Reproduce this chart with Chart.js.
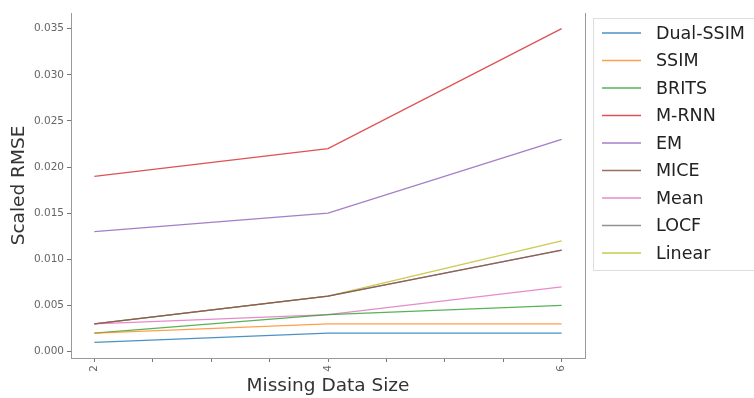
<!doctype html>
<html>
<head>
    <meta charset="utf-8">
    <title>Scaled RMSE vs Missing Data Size</title>
    <script src="https://cdn.jsdelivr.net/npm/chart.js@4.4.0/dist/chart.umd.min.js"></script>
    <style>
    html, body { margin: 0; padding: 0; background: #fff; }
    #wrap { width: 754px; height: 398px; }
    </style>
</head>
<body>
    <div id="wrap"><canvas id="canvas" width="754" height="398"></canvas></div>
    <script>
        var sizes = [2, 4, 6];
        var methods = ["Dual-SSIM", "SSIM", "BRITS", "M-RNN", "EM", "MICE", "Mean", "LOCF", "Linear"];
        var dualSsim = [0.001, 0.002, 0.002];
        var ssim     = [0.002, 0.003, 0.003];
        var brits    = [0.002, 0.004, 0.005];
        var mrnn     = [0.019, 0.022, 0.035];
        var em       = [0.013, 0.015, 0.023];
        var mice     = [0.003, 0.006, 0.011];
        var meanImp  = [0.003, 0.004, 0.007];
        var locf     = [0.003, 0.006, 0.011];
        var linear   = [0.003, 0.006, 0.012];
        var xTicks = [2, 2.5, 3, 3.5, 4, 4.5, 5, 5.5, 6];
        var xLabels = [2, 4, 6];

        var series = [dualSsim, ssim, brits, mrnn, em, mice, meanImp, locf, linear];
        var colors = ['rgba(31,119,180,0.8)', 'rgba(255,127,14,0.75)', 'rgba(44,160,44,0.8)',
                      'rgba(214,39,40,0.8)', 'rgba(148,103,189,0.85)', 'rgba(140,86,75,0.85)',
                      'rgba(227,119,194,0.85)', 'rgba(127,127,127,0.85)', 'rgba(188,189,34,0.8)'];

        var font = 'DejaVu Sans';

        var datasets = series.map(function (vals, i) {
            return {
                label: methods[i],
                data: vals.map(function (v, j) { return { x: sizes[j], y: v }; }),
                borderColor: colors[i],
                backgroundColor: colors[i],
                borderWidth: 1.3,
                pointRadius: 0,
                tension: 0,
                fill: false
            };
        });

        // boxed legend on the right, plus the right spine
        var extras = {
            id: 'extras',
            afterDraw: function (chart) {
                var ctx = chart.ctx;
                var area = chart.chartArea;
                ctx.save();
                ctx.strokeStyle = '#999';
                ctx.lineWidth = 1;
                ctx.beginPath();
                ctx.moveTo(area.right + 0.5, area.top);
                ctx.lineTo(area.right + 0.5, area.bottom);
                ctx.stroke();

                var bx = 593, by = 18, bw = 170, bh = 252;
                ctx.fillStyle = 'rgba(255,255,255,0.8)';
                ctx.strokeStyle = '#ddd';
                ctx.fillRect(bx, by, bw, bh);
                ctx.strokeRect(bx + 0.5, by + 0.5, bw, bh);

                ctx.font = '17.5px ' + font;
                ctx.textBaseline = 'middle';
                chart.data.datasets.forEach(function (ds, i) {
                    var y = 33 + i * 27.5;
                    ctx.strokeStyle = ds.borderColor;
                    ctx.lineWidth = 1.5;
                    ctx.beginPath();
                    ctx.moveTo(602, y);
                    ctx.lineTo(641, y);
                    ctx.stroke();
                    ctx.fillStyle = '#222';
                    ctx.fillText(ds.label, 656, y + 1);
                });
                ctx.restore();
            }
        };

        var ctx = document.getElementById('canvas').getContext('2d');
        new Chart(ctx, {
            type: 'line',
            data: { datasets: datasets },
            plugins: [extras],
            options: {
                responsive: false,
                animation: false,
                layout: { padding: { top: 13, right: 169, left: 0, bottom: 0 } },
                plugins: {
                    legend: { display: false },
                    tooltip: { enabled: false }
                },
                scales: {
                    x: {
                        type: 'linear',
                        min: 1.8,
                        max: 6.2,
                        afterBuildTicks: function (scale) {
                            scale.ticks = xTicks.map(function (v) { return { value: v }; });
                        },
                        afterFit: function (scale) { scale.height = 40; },
                        grid: { display: true, drawOnChartArea: false, tickLength: 4, color: '#777' },
                        border: { display: true, color: '#999', width: 1 },
                        ticks: {
                            autoSkip: false,
                            minRotation: 90,
                            maxRotation: 90,
                            padding: 3,
                            color: '#666',
                            font: { family: font, size: 10.5 },
                            callback: function (v) { return xLabels.indexOf(v) >= 0 ? String(v) : ''; }
                        },
                        title: {
                            display: true,
                            text: 'Missing Data Size',
                            color: '#333',
                            padding: { top: 0, bottom: 1 },
                            font: { family: font, size: 18.5 }
                        }
                    },
                    y: {
                        min: -0.0007,
                        max: 0.0367,
                        afterBuildTicks: function (scale) {
                            var t = [];
                            for (var k = 0; k <= 7; k++) t.push({ value: k * 0.005 });
                            scale.ticks = t;
                        },
                        afterFit: function (scale) { scale.width = 71; },
                        grid: { display: true, drawOnChartArea: false, tickLength: 4, color: '#777' },
                        border: { display: true, color: '#999', width: 1 },
                        ticks: {
                            padding: 3,
                            color: '#666',
                            font: { family: font, size: 10.5 },
                            callback: function (v) { return v.toFixed(3); }
                        },
                        title: {
                            display: true,
                            text: 'Scaled RMSE',
                            color: '#333',
                            padding: { top: 8, bottom: 0 },
                            font: { family: font, size: 18.5 }
                        }
                    }
                }
            }
        });
    </script>
</body>
</html>
